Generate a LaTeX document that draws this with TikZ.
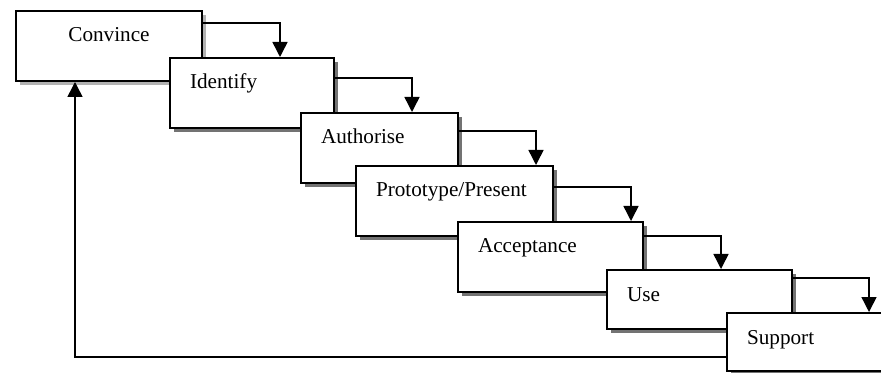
\documentclass[tikz,border=0pt]{standalone}
\usepackage{fontspec}
\setmainfont{Liberation Serif}
\usetikzlibrary{arrows.meta,calc,shadows}

\tikzset{
    stage/.style={draw, line width=1pt, fill=white, anchor=north west,
        inner xsep=10pt, inner ysep=0pt, align=left, text height=15.5pt,
        font=\fontsize{10.6}{12.7}\selectfont,
        drop shadow={shadow xshift=2pt, shadow yshift=-2pt, fill=#1, opacity=1}},
    stage/.default=black!55,
}

\begin{document}
\begin{tikzpicture}[x=0.5pt, y=-0.5pt, >={Triangle[width=7.5pt,length=7.5pt]}, line width=0.75pt]
        \useasboundingbox (0,0) rectangle (881,373);
        \draw (15,10)node[stage=black!30, align=center, text width=73pt, text depth=19.5pt, name=C]{Convince};
        \draw (169,57)node[stage, text width=62pt, text depth=19.5pt, name=I]{Identify};
        \draw (300,112)node[stage, text width=58.5pt, text depth=19.5pt, name=A]{Authorise};
        \draw (355,165)node[stage, text width=78.5pt, text depth=19.5pt, name=P]{Prototype/Present};
        \draw (457,221)node[stage, text width=72.5pt, text depth=19.5pt, name=Ac]{Acceptance};
        \draw (606,269)node[stage, text width=72.5pt, text depth=14pt, name=U]{Use};
        \draw (726,312)node[stage, text width=75pt, text depth=13.5pt, name=S]{Support};
        % steps down the ladder
        \draw[->] ($(C.north east)+(0,13)$) --++(77,0) coordinate (c1) -- (c1 |- I.north);
        \draw[->] ($(I.north east)+(0,21)$) --++(77,0) coordinate (c2) -- (c2 |- A.north);
        \draw[->] ($(A.north east)+(0,19)$) --++(77,0) coordinate (c3) -- (c3 |- P.north);
        \draw[->] ($(P.north east)+(0,22)$) --++(77,0) coordinate (c4) -- (c4 |- Ac.north);
        \draw[->] ($(Ac.north east)+(0,15)$) --++(77,0) coordinate (c5) -- (c5 |- U.north);
        \draw[->] ($(U.north east)+(0,9)$) --++(76,0) coordinate (c6) -- (c6 |- S.north);
        % back to the start
        \draw[->] ($(S.south west)+(0,-15)$) -| ($(C.south west)+(60,0)$);
\end{tikzpicture}
\end{document}
